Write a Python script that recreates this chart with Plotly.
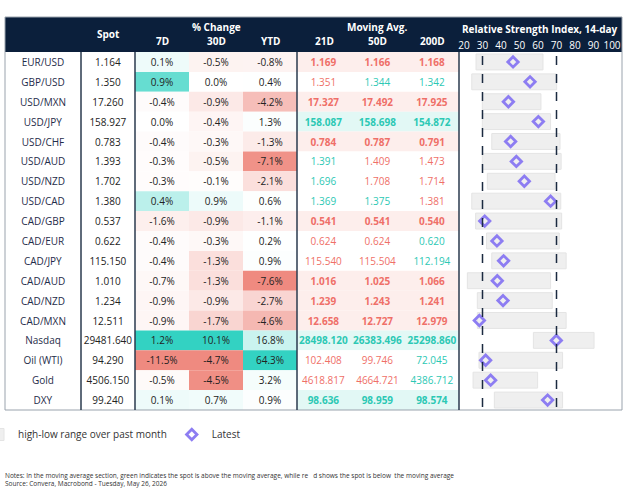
import plotly.graph_objects as go

W, H = 625, 495

names = ["EUR/USD", "GBP/USD", "USD/MXN", "USD/JPY", "USD/CHF", "USD/AUD", "USD/NZD", "USD/CAD",
         "CAD/GBP", "CAD/EUR", "CAD/JPY", "CAD/AUD", "CAD/NZD", "CAD/MXN", "Nasdaq", "Oil (WTI)",
         "Gold", "DXY"]
spot = [1.164, 1.350, 17.260, 158.927, 0.783, 1.393, 1.702, 1.380, 0.537, 0.622, 115.150, 1.010,
        1.234, 12.511, 29481.640, 94.290, 4506.150, 99.240]
chg_7d = [0.1, 0.9, -0.4, 0.0, -0.4, -0.3, -0.3, 0.4, -1.6, -0.4, -0.4, -0.7, -0.9, -0.9, 1.2, -11.5, -0.5, 0.1]
chg_30d = [-0.5, 0.0, -0.9, -0.4, -0.3, -0.5, -0.1, 0.9, -0.9, -0.3, -1.3, -1.3, -0.9, -1.7, 10.1, -4.7, -4.5, 0.7]
chg_ytd = [-0.8, 0.4, -4.2, 1.3, -1.3, -7.1, -2.1, 0.6, -1.1, 0.2, 0.9, -7.6, -2.7, -4.6, 16.8, 64.3, 3.2, 0.9]
ma_21 = [1.169, 1.351, 17.327, 158.087, 0.784, 1.391, 1.696, 1.369, 0.541, 0.624, 115.540, 1.016,
         1.239, 12.658, 28498.120, 102.408, 4618.817, 98.636]
ma_50 = [1.166, 1.344, 17.492, 158.698, 0.787, 1.409, 1.708, 1.375, 0.541, 0.624, 115.504, 1.025,
         1.243, 12.727, 26383.496, 99.746, 4664.721, 98.959]
ma_200 = [1.168, 1.342, 17.925, 154.872, 0.791, 1.473, 1.714, 1.381, 0.540, 0.620, 112.194, 1.066,
          1.241, 12.979, 25298.860, 72.045, 4386.712, 98.574]
rsi_low = [26.5, 24.2, 29.9, 29.9, 35.0, 29.9, 32.6, 24.2, 26.3, 32.2, 35.0, 21.8, 27.2, 27.2, 57.5, 28.1, 24.9, 36.4]
rsi_high = [62.7, 70.1, 61.6, 66.8, 71.9, 72.5, 69.2, 72.3, 72.8, 71.5, 75.2, 66.8, 67.7, 75.2, 90.3, 73.3, 59.8, 73.3]
rsi_latest = [46.5, 55.7, 44.0, 60.2, 45.2, 48.3, 52.6, 66.8, 31.2, 37.8, 41.4, 38.0, 41.1, 28.3, 69.9, 31.7, 34.4, 65.2]
rsi_ticks = [20, 30, 40, 50, 60, 70, 80, 90, 100]

NAVY = "#0b1f3b"
TEAL = (51, 210, 194)
RED = (239, 138, 128)
GREEN_TXT = "#2cc8b4"
RED_TXT = "#ef6f68"
FONT = "Open Sans"


def mix(c, t):
    t = max(0.0, min(1.0, t))
    r, g, b = (round(255 + (x - 255) * t) for x in c)
    return f"rgb({r},{g},{b})"


def pct_fills(vals):
    pmax = max(v for v in vals if v > 0)
    nmin = min(v for v in vals if v < 0)
    out = []
    for v in vals:
        if v > 0:
            out.append(mix(TEAL, v / pmax))
        elif v < 0:
            out.append(mix(RED, v / nmin))
        else:
            out.append("white")
    return out


def fmt(v):
    return f"{v:.3f}"


ma_fill, ma_txt, ma_col = [], [[], [], []], [[], [], []]
for i, s in enumerate(spot):
    mas = [ma_21[i], ma_50[i], ma_200[i]]
    above = [s > m for m in mas]
    bold = all(above) or not any(above)
    ma_fill.append("#e2f8f5" if all(above) else "#fdeeec" if not any(above) else "white")
    for k, m in enumerate(mas):
        ma_txt[k].append(f"<b>{fmt(m)}</b>" if bold else fmt(m))
        ma_col[k].append(GREEN_TXT if above[k] else RED_TXT)

n = len(names)
cells = [names, [fmt(v) for v in spot],
         [f"{v:.1f}%" for v in chg_7d], [f"{v:.1f}%" for v in chg_30d], [f"{v:.1f}%" for v in chg_ytd],
         ma_txt[0], ma_txt[1], ma_txt[2]]
fills = [["white"] * n, ["white"] * n, pct_fills(chg_7d), pct_fills(chg_30d), pct_fills(chg_ytd),
         ma_fill, ma_fill, ma_fill]
fcolors = [["#1f2d4a"] * n, ["#222222"] * n, ["#222222"] * n, ["#222222"] * n, ["#222222"] * n,
           ma_col[0], ma_col[1], ma_col[2]]

# column edges in pixels
col_x = [5, 81, 135, 189, 243, 297, 350, 405, 459]
top, head_h, bottom = 17, 35, 410

fig = go.Figure()
for c in range(8):
    fig.add_trace(go.Bar(
        y=names, x=[col_x[c + 1] - col_x[c]] * n, base=col_x[c], orientation="h", width=1,
        marker=dict(color=fills[c], line_width=0), text=cells[c], textposition="inside",
        insidetextanchor="middle", textangle=0, constraintext="none",
        textfont=dict(family=FONT, size=10, color=fcolors[c]),
        xaxis="x2", yaxis="y", showlegend=False, hoverinfo="skip",
    ))

# RSI panel
fig.add_trace(go.Bar(
    y=names, x=[h - l for l, h in zip(rsi_low, rsi_high)], base=rsi_low, orientation="h",
    marker=dict(color="#efefef", line=dict(color="#e4e4e4", width=1)), width=0.8,
    name="high-low range over past month", textposition="none",
))
fig.add_trace(go.Scatter(
    y=names, x=rsi_latest, mode="markers", name="Latest",
    marker=dict(symbol="diamond-open", size=8, color="#8d7df2", line=dict(width=2.8, color="#8d7df2")),
))
for v in (30, 70):
    fig.add_shape(type="line", xref="x", yref="paper", x0=v, x1=v,
                  y0=1 - (bottom - 3) / H, y1=1 - (top + head_h + 4) / H,
                  line=dict(color="#1b2a40", width=1.5, dash="dash"))

px_per = 1.85
fig.update_layout(
    xaxis=dict(domain=[col_x[-1] / W, 622 / W], range=[20 - 5 / px_per, 20 + (622 - 464) / px_per],
               side="top", tickvals=rsi_ticks, showgrid=False, zeroline=False, anchor="y",
               tickfont=dict(family=FONT, size=10, color="white"), ticks="", fixedrange=True),
    xaxis2=dict(domain=[col_x[0] / W, col_x[-1] / W], range=[col_x[0], col_x[-1]], visible=False,
                anchor="y", fixedrange=True),
    yaxis=dict(domain=[1 - bottom / H, 1 - (top + head_h) / H], categoryorder="array",
               categoryarray=names, range=[n - 0.5, -0.5], showticklabels=False, showgrid=False,
               zeroline=False, fixedrange=True),
)

# header band and frame
fig.add_shape(type="rect", xref="paper", yref="paper", x0=5 / W, x1=622 / W,
              y0=1 - (top + head_h) / H, y1=1 - top / H, fillcolor=NAVY, line_width=0, layer="below")
fig.add_shape(type="rect", xref="paper", yref="paper", x0=5 / W, x1=622 / W,
              y0=1 - bottom / H, y1=1 - top / H, line=dict(color="#9aa3ad", width=1))
for x in (81, 135, 297, 459):
    fig.add_shape(type="line", xref="paper", yref="paper", x0=x / W, x1=x / W,
                  y0=1 - bottom / H, y1=1 - (top + head_h) / H, line=dict(color="#2a3a4e", width=1.5))

hdr = [("Spot", 108, 34), ("% Change", 216, 27), ("7D", 162, 41), ("30D", 216, 41), ("YTD", 270, 41),
       ("Moving Avg.", 377, 27), ("21D", 324, 41), ("50D", 377, 41), ("200D", 432, 41),
       ("Relative Strength Index, 14-day", 540, 29)]
for t, x, y in hdr:
    fig.add_annotation(text=f"<b>{t}</b>", x=x / W, y=1 - y / H, xref="paper", yref="paper",
                       xanchor="center", yanchor="middle", showarrow=False,
                       font=dict(family=FONT, size=10, color="white"))

fig.add_annotation(text="Notes: In the moving average section, green indicates the spot is above the moving average, "
                        "while re   d shows the spot is below  the moving average<br>"
                        "Source: Convera, Macrobond - Tuesday, May 26, 2026",
                   x=3 / W, y=1 - 469 / H, xref="paper", yref="paper", xanchor="left", yanchor="top",
                   align="left", showarrow=False, font=dict(family=FONT, size=6.5, color="#333333"))

fig.update_layout(
    width=W, height=H, margin=dict(l=0, r=0, t=0, b=0, autoexpand=False),
    paper_bgcolor="white", plot_bgcolor="white", barmode="overlay", showlegend=True,
    legend=dict(orientation="h", x=-22 / W, y=1 - 420 / H, xanchor="left", yanchor="top",
                font=dict(family=FONT, size=10, color="#333333"), itemwidth=30),
)

fig.write_html("out.html", config={"displayModeBar": False},
               post_script="document.body.style.margin='0';")
